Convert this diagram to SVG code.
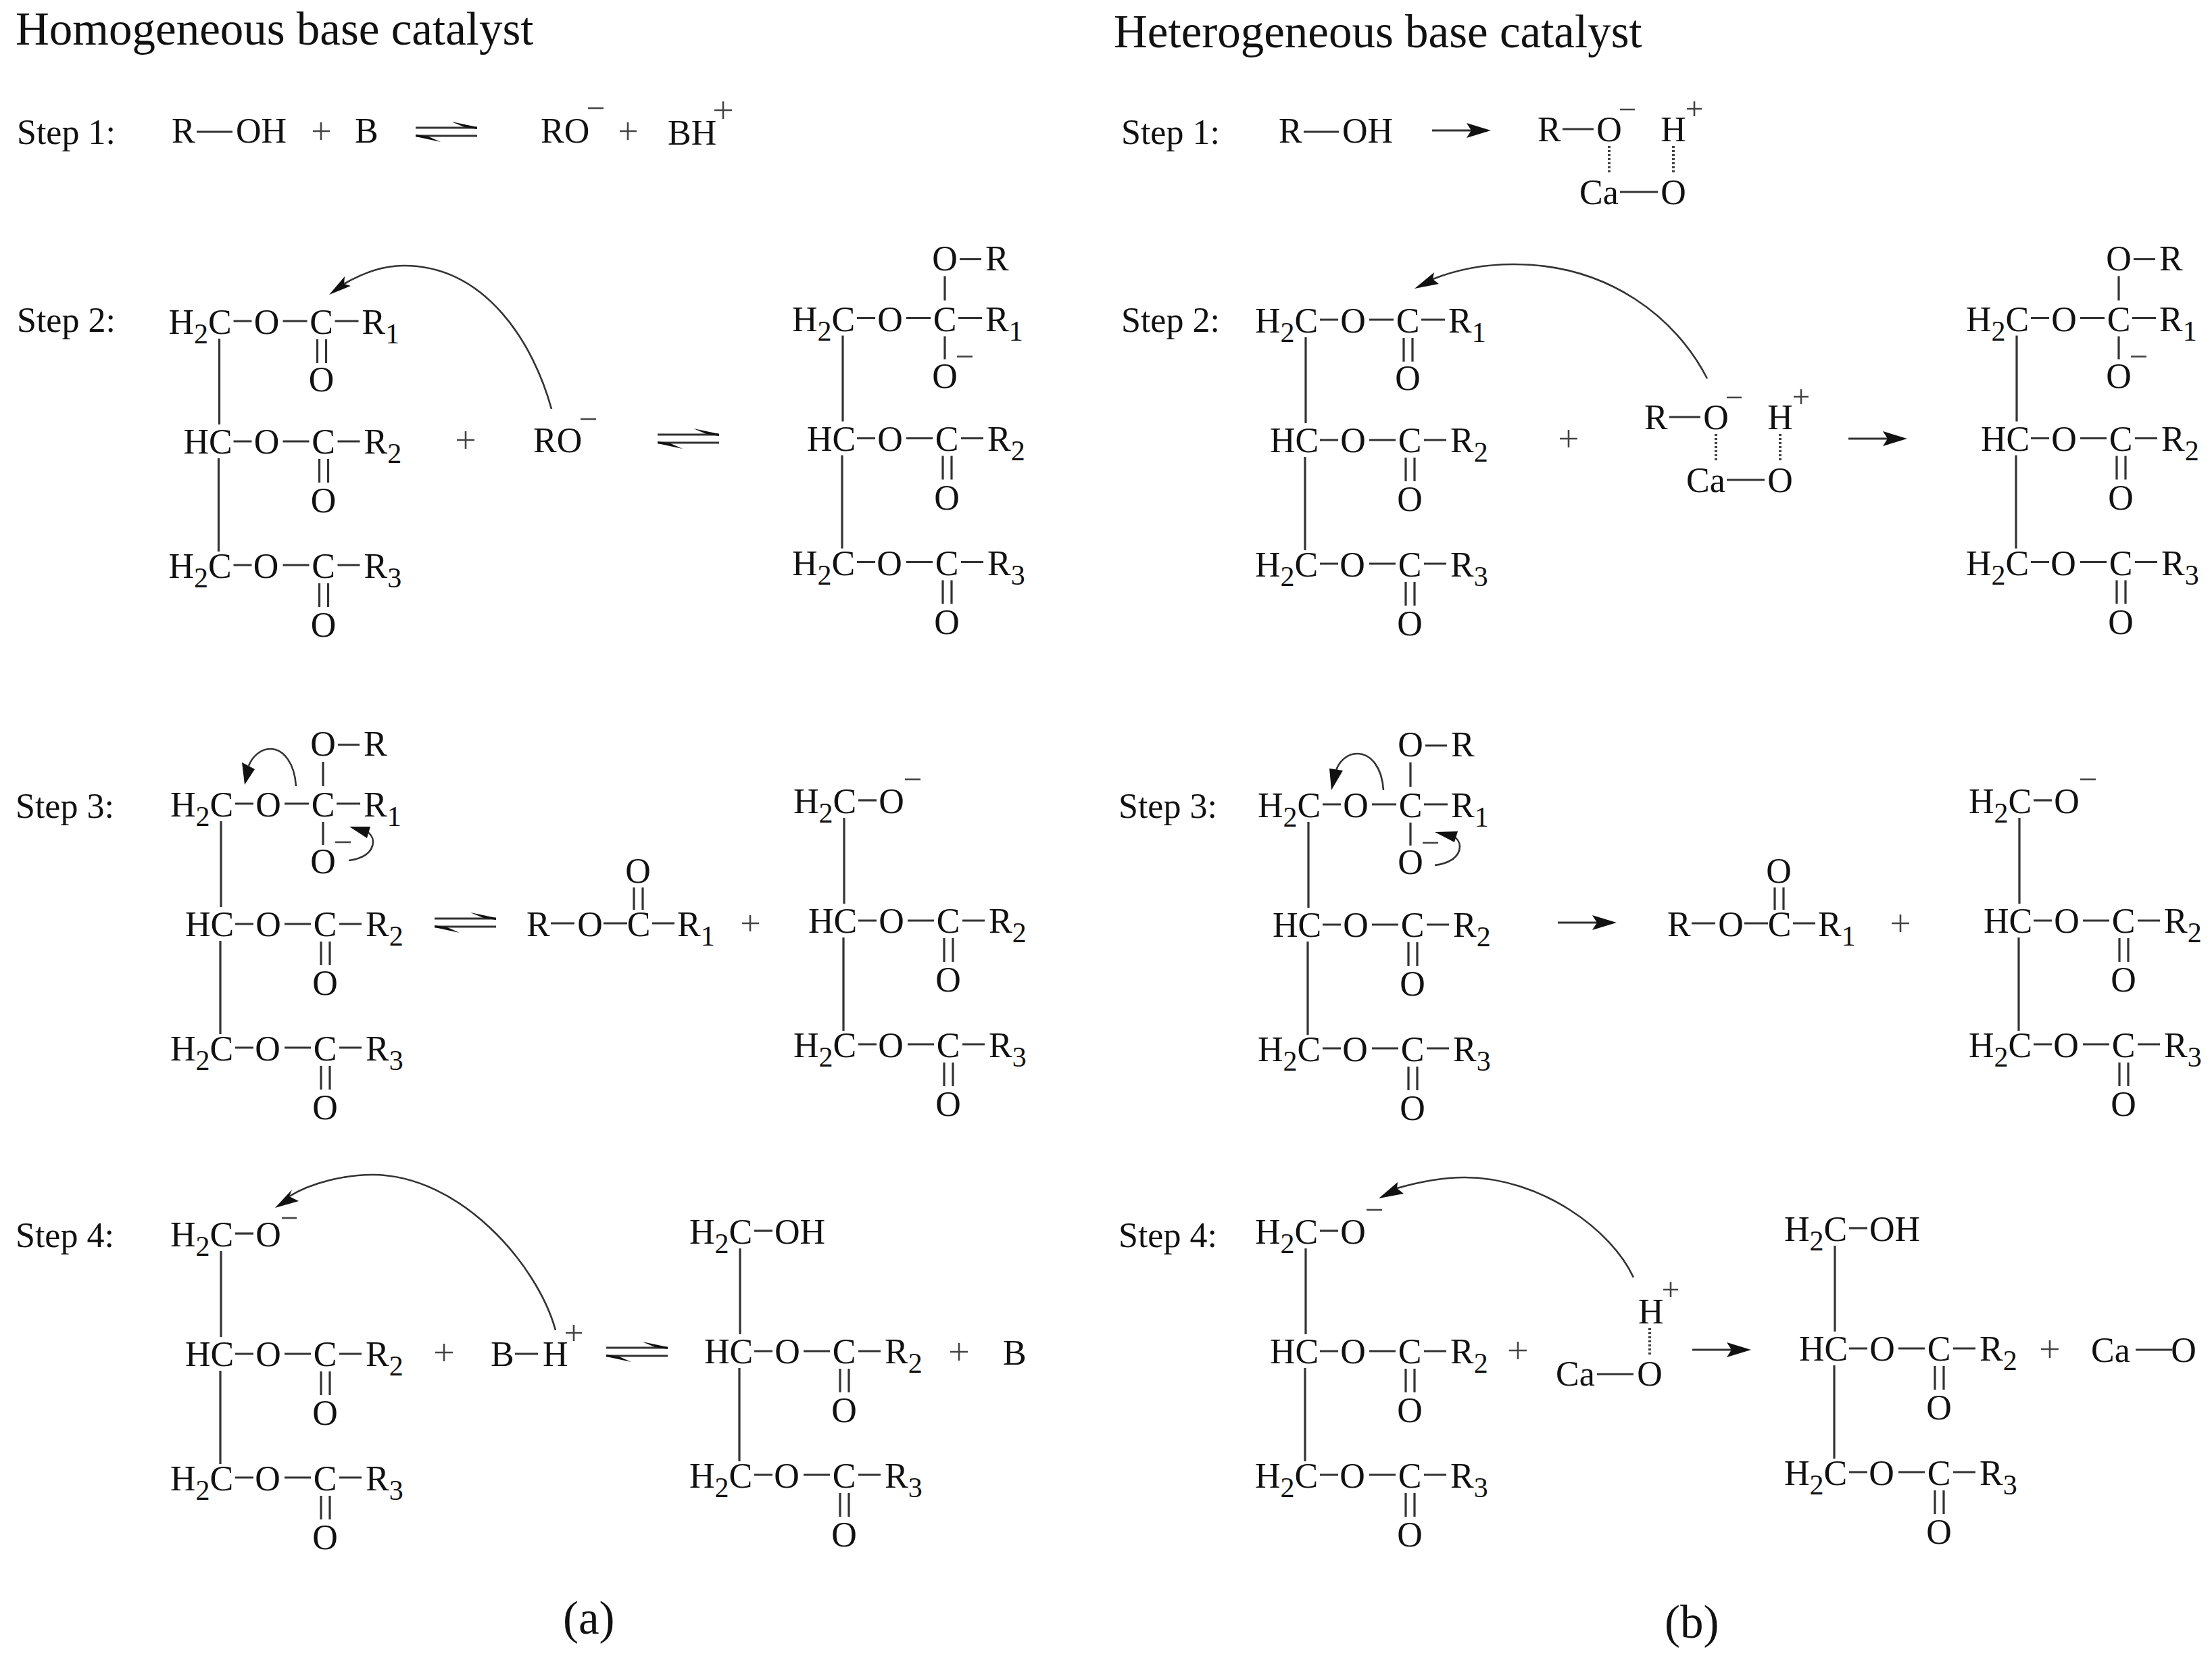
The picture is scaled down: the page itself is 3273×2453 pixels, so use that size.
<svg xmlns="http://www.w3.org/2000/svg" width="3273" height="2453" viewBox="0 0 3273 2453">
<style>
text{font-family:"Liberation Serif","Times New Roman",serif;font-size:52px;fill:#111}
.t{font-size:69px}
.m{text-anchor:middle}
.s{font-size:42px}
.b{stroke:#333;stroke-width:3.2;fill:none}
.p{stroke:#444;stroke-width:2.6;fill:none}
.c{stroke:#333;stroke-width:2.6;fill:none}
.d{stroke:#444;stroke-width:4;stroke-dasharray:3 3;fill:none}
.h{fill:#111;stroke:none}
</style>
<defs>
<g id="tail">
<path class="b" d="M74 7V134M73 184V322M95 159H122M168 159H207M249 159H282M95 342H122M168 342H207M249 342H282M222 185V220M235 185V220M222 369V404M235 369V404"/>
</g>
<g id="eq">
<path class="b" d="M0 -6H91M0 6H91"/>
<path class="h" d="M53 -15L91 -7V-4L72 -7Z"/>
<path class="h" d="M0 4L19 7L37 15L0 7Z"/>
</g>
<g id="arrow">
<path class="b" d="M0 0H60"/>
<path class="h" d="M87 0L51 -11L58 0L51 11Z"/>
</g>
<g id="cat">
<path class="b" d="M2312 191H2358M2397 284H2453"/>
<path class="d" d="M2381 216V257M2476 216V257"/>
<path class="p" d="M2397 162H2419M2496 161H2518M2507 150V172"/>
</g>
</defs>

<g id="titles">
<text class="t" x="23" y="66">Homogeneous base catalyst</text>
<text class="t" x="1648" y="70">Heterogeneous base catalyst</text>
<text class="t" x="833" y="2417">(a)</text>
<text class="t" x="2463" y="2423">(b)</text>
</g>
<g id="step-labels">
<text x="25" y="213">Step 1:</text>
<text x="25" y="491">Step 2:</text>
<text x="23" y="1210">Step 3:</text>
<text x="23" y="1845">Step 4:</text>
<text x="1659" y="213">Step 1:</text>
<text x="1659" y="491">Step 2:</text>
<text x="1655" y="1210">Step 3:</text>
<text x="1655" y="1845">Step 4:</text>
</g>

<g id="connectors">
<path class="b" d="M291 195H344"/>
<path class="b" d="M1929 195H1981"/>
<path class="p" d="M463 194H488M475 181V207M870 160H893M1057 163H1083M1070 150V176M917 194H942M929 181V207"/>
<path class="p" d="M859 620H882M676 651H702M689 638V664"/>
<use href="#eq" x="615" y="195"/>
<use href="#eq" x="973" y="649"/>
<use href="#eq" x="643" y="1365"/>
<use href="#eq" x="897" y="2000"/>
<use href="#arrow" x="2119" y="193"/>
<use href="#arrow" x="2735" y="649"/>
<use href="#arrow" x="2305" y="1365"/>
<use href="#arrow" x="2504" y="1997"/>
<path class="c" d="M816 605C790 510 720 393 597 393C565 393 535 405 509 420"/>
<path class="h" d="M487 436L510 409L509 420L519 423Z"/>
<path class="c" d="M822 1968C795 1870 680 1738 551 1738C510 1738 460 1750 428 1770"/>
<path class="h" d="M407 1787L432 1760L428 1770L442 1777Z"/>
<path class="c" d="M2526 560C2480 470 2380 391 2240 391C2200 391 2160 397 2120 413"/>
<path class="h" d="M2093 427L2122 403L2120 413L2129 420Z"/>
<path class="c" d="M2417 1890C2385 1820 2280 1742 2167 1742C2130 1742 2095 1750 2067 1758"/>
<path class="h" d="M2040 1773L2068 1749L2067 1758L2077 1766Z"/>
<path class="c" d="M438 1163C436 1130 420 1108 400 1108C385 1108 373 1120 368 1133"/>
<path class="h" d="M362 1161L358 1128L377 1138Z"/>
<path class="c" d="M516 1273C535 1271 552 1262 552 1245C552 1238 548 1233 540 1228"/>
<path class="h" d="M517 1223L548 1223L543 1240Z"/>
<path class="c" d="M2047 1169C2045 1136 2029 1115 2008 1115C1993 1115 1981 1127 1977 1140"/>
<path class="h" d="M1970 1169L1967 1137L1987 1140Z"/>
<path class="c" d="M2123 1280C2142 1278 2160 1269 2160 1252C2160 1245 2156 1240 2148 1235"/>
<path class="h" d="M2123 1231L2157 1230L2152 1246Z"/>
<path class="b" d="M815 1366H850M893 1366H928M965 1366H998M938 1313V1346M951 1313V1346"/>
<path class="b" d="M2503 1366H2538M2581 1366H2616M2653 1366H2686M2626 1313V1346M2639 1313V1346"/>
<path class="b" d="M762 2003H796"/>
<path class="p" d="M644 2001H670M657 1988V2014M1098 1366H1123M1110 1354V1378M1406 2000H1432M1419 1987V2013"/>
<path class="p" d="M2308 649H2334M2321 636V662M2799 1366H2825M2812 1353V1379M2233 1998H2259M2246 1985V2011M3020 1996H3046M3033 1983V2009"/>
<path class="b" d="M3160 1997H3214"/>
<path class="p" d="M837 1972H861M849 1960V1984"/>
</g>

<g id="s1-left">
<text x="254" y="211">R</text><text x="349" y="211">OH</text><text x="525" y="211">B</text>
<text x="800" y="211">RO</text><text x="988" y="214">BH</text>
</g>
<g id="s1-right">
<text x="1892" y="211">R</text><text x="1986" y="211">OH</text>
</g>
<g id="cat1">
<use href="#cat"/>
<text x="2275" y="209">R</text><text class="m" x="2381" y="209">O</text><text class="m" x="2476" y="209">H</text>
<text x="2337" y="302">Ca</text><text class="m" x="2476" y="302">O</text>
</g>
<g id="cat2" transform="translate(158 426)">
<use href="#cat"/>
<text x="2275" y="209">R</text><text class="m" x="2381" y="209">O</text><text class="m" x="2476" y="209">H</text>
<text x="2337" y="302">Ca</text><text class="m" x="2476" y="302">O</text>
</g>
<g id="ro-step2"><text x="789" y="669">RO</text></g>

<g id="ester-left"><text x="779" y="1385">R</text><text class="m" x="873" y="1385">O</text><text class="m" x="945" y="1385">C</text><text x="1002" y="1385">R<tspan class="s" dy="14">1</tspan></text><text class="m" x="944" y="1306">O</text></g>
<g id="ester-right"><text x="2467" y="1385">R</text><text class="m" x="2561" y="1385">O</text><text class="m" x="2633" y="1385">C</text><text x="2690" y="1385">R<tspan class="s" dy="14">1</tspan></text><text class="m" x="2632" y="1306">O</text></g>
<g id="bh-left"><text x="726" y="2021">B</text><text x="803" y="2021">H</text><text x="1484" y="2019">B</text></g>
<g id="cat-step4">
<path class="b" d="M2363 2033H2417"/>
<path class="p" d="M2461 1908H2483M2472 1897V1919"/>
<path class="d" d="M2441 1965V2005"/>
<text x="2424" y="1958">H</text><text x="2302" y="2050">Ca</text><text class="m" x="2441" y="2050">O</text>
</g>
<g id="cao-right"><text x="3094" y="2015">Ca</text><text class="m" x="3231" y="2015">O</text></g>

<g id="tg-a" transform="translate(250.5 494)">
<use href="#tail"/>
<path class="b" d="M95 -19H122M168 -19H204M245 -19H280M219 8V43M232 8V43"/>
<text x="-1" y="0">H<tspan class="s" dy="14">2</tspan><tspan dy="-14">C</tspan></text><text class="m" x="144" y="0">O</text><text class="m" x="225" y="0">C</text><text x="285" y="0">R<tspan class="s" dy="14">1</tspan></text><text class="m" x="225" y="85">O</text>
<text x="21" y="177">HC</text><text class="m" x="144" y="177">O</text><text class="m" x="228" y="177">C</text><text x="288" y="177">R<tspan class="s" dy="14">2</tspan></text><text class="m" x="228" y="264">O</text>
<text x="-1" y="361">H<tspan class="s" dy="14">2</tspan><tspan dy="-14">C</tspan></text><text class="m" x="143" y="361">O</text><text class="m" x="228" y="361">C</text><text x="288" y="361">R<tspan class="s" dy="14">3</tspan></text><text class="m" x="228" y="448">O</text>
</g>
<g id="tg-b" transform="translate(1173 489.5)">
<use href="#tail"/>
<path class="b" d="M95 -19H122M168 -19H204M245 -19H280M247 -106H279M225 -81V-45M225 8V42"/><path class="p" d="M243 38H266"/>
<text class="m" x="225" y="-90">O</text><text x="285" y="-90">R</text>
<text x="-1" y="0">H<tspan class="s" dy="14">2</tspan><tspan dy="-14">C</tspan></text><text class="m" x="144" y="0">O</text><text class="m" x="225" y="0">C</text><text x="285" y="0">R<tspan class="s" dy="14">1</tspan></text><text class="m" x="225" y="84">O</text>
<text x="21" y="177">HC</text><text class="m" x="144" y="177">O</text><text class="m" x="228" y="177">C</text><text x="288" y="177">R<tspan class="s" dy="14">2</tspan></text><text class="m" x="228" y="264">O</text>
<text x="-1" y="361">H<tspan class="s" dy="14">2</tspan><tspan dy="-14">C</tspan></text><text class="m" x="143" y="361">O</text><text class="m" x="228" y="361">C</text><text x="288" y="361">R<tspan class="s" dy="14">3</tspan></text><text class="m" x="228" y="448">O</text>
</g>
<g id="tg-c" transform="translate(253 1208)">
<use href="#tail"/>
<path class="b" d="M95 -19H122M168 -19H204M245 -19H280M247 -106H279M225 -81V-45M225 8V42"/><path class="p" d="M243 38H266"/>
<text class="m" x="225" y="-90">O</text><text x="285" y="-90">R</text>
<text x="-1" y="0">H<tspan class="s" dy="14">2</tspan><tspan dy="-14">C</tspan></text><text class="m" x="144" y="0">O</text><text class="m" x="225" y="0">C</text><text x="285" y="0">R<tspan class="s" dy="14">1</tspan></text><text class="m" x="225" y="84">O</text>
<text x="21" y="177">HC</text><text class="m" x="144" y="177">O</text><text class="m" x="228" y="177">C</text><text x="288" y="177">R<tspan class="s" dy="14">2</tspan></text><text class="m" x="228" y="264">O</text>
<text x="-1" y="361">H<tspan class="s" dy="14">2</tspan><tspan dy="-14">C</tspan></text><text class="m" x="143" y="361">O</text><text class="m" x="228" y="361">C</text><text x="288" y="361">R<tspan class="s" dy="14">3</tspan></text><text class="m" x="228" y="448">O</text>
</g>
<g id="tg-d" transform="translate(1175 1203)">
<use href="#tail"/>
<path class="b" d="M95 -19H122"/><path class="p" d="M164 -50H187"/>
<text x="-1" y="0">H<tspan class="s" dy="14">2</tspan><tspan dy="-14">C</tspan></text><text class="m" x="144" y="0">O</text>
<text x="21" y="177">HC</text><text class="m" x="144" y="177">O</text><text class="m" x="228" y="177">C</text><text x="288" y="177">R<tspan class="s" dy="14">2</tspan></text><text class="m" x="228" y="264">O</text>
<text x="-1" y="361">H<tspan class="s" dy="14">2</tspan><tspan dy="-14">C</tspan></text><text class="m" x="143" y="361">O</text><text class="m" x="228" y="361">C</text><text x="288" y="361">R<tspan class="s" dy="14">3</tspan></text><text class="m" x="228" y="448">O</text>
</g>
<g id="tg-e" transform="translate(253 1844)">
<use href="#tail"/>
<path class="b" d="M95 -19H122"/><path class="p" d="M164 -42H186"/>
<text x="-1" y="0">H<tspan class="s" dy="14">2</tspan><tspan dy="-14">C</tspan></text><text class="m" x="144" y="0">O</text>
<text x="21" y="177">HC</text><text class="m" x="144" y="177">O</text><text class="m" x="228" y="177">C</text><text x="288" y="177">R<tspan class="s" dy="14">2</tspan></text><text class="m" x="228" y="264">O</text>
<text x="-1" y="361">H<tspan class="s" dy="14">2</tspan><tspan dy="-14">C</tspan></text><text class="m" x="143" y="361">O</text><text class="m" x="228" y="361">C</text><text x="288" y="361">R<tspan class="s" dy="14">3</tspan></text><text class="m" x="228" y="448">O</text>
</g>
<g id="tg-f" transform="translate(1021 1840)">
<use href="#tail"/>
<path class="b" d="M95 -19H122"/>
<text x="-1" y="0">H<tspan class="s" dy="14">2</tspan><tspan dy="-14">C</tspan></text><text x="125" y="0">OH</text>
<text x="21" y="177">HC</text><text class="m" x="144" y="177">O</text><text class="m" x="228" y="177">C</text><text x="288" y="177">R<tspan class="s" dy="14">2</tspan></text><text class="m" x="228" y="264">O</text>
<text x="-1" y="361">H<tspan class="s" dy="14">2</tspan><tspan dy="-14">C</tspan></text><text class="m" x="143" y="361">O</text><text class="m" x="228" y="361">C</text><text x="288" y="361">R<tspan class="s" dy="14">3</tspan></text><text class="m" x="228" y="448">O</text>
</g>
<g id="tg-g" transform="translate(1858 492)">
<use href="#tail"/>
<path class="b" d="M95 -19H122M168 -19H204M245 -19H280M219 8V43M232 8V43"/>
<text x="-1" y="0">H<tspan class="s" dy="14">2</tspan><tspan dy="-14">C</tspan></text><text class="m" x="144" y="0">O</text><text class="m" x="225" y="0">C</text><text x="285" y="0">R<tspan class="s" dy="14">1</tspan></text><text class="m" x="225" y="85">O</text>
<text x="21" y="177">HC</text><text class="m" x="144" y="177">O</text><text class="m" x="228" y="177">C</text><text x="288" y="177">R<tspan class="s" dy="14">2</tspan></text><text class="m" x="228" y="264">O</text>
<text x="-1" y="361">H<tspan class="s" dy="14">2</tspan><tspan dy="-14">C</tspan></text><text class="m" x="143" y="361">O</text><text class="m" x="228" y="361">C</text><text x="288" y="361">R<tspan class="s" dy="14">3</tspan></text><text class="m" x="228" y="448">O</text>
</g>
<g id="tg-h" transform="translate(2910 489.5)">
<use href="#tail"/>
<path class="b" d="M95 -19H122M168 -19H204M245 -19H280M247 -106H279M225 -81V-45M225 8V42"/><path class="p" d="M243 38H266"/>
<text class="m" x="225" y="-90">O</text><text x="285" y="-90">R</text>
<text x="-1" y="0">H<tspan class="s" dy="14">2</tspan><tspan dy="-14">C</tspan></text><text class="m" x="144" y="0">O</text><text class="m" x="225" y="0">C</text><text x="285" y="0">R<tspan class="s" dy="14">1</tspan></text><text class="m" x="225" y="84">O</text>
<text x="21" y="177">HC</text><text class="m" x="144" y="177">O</text><text class="m" x="228" y="177">C</text><text x="288" y="177">R<tspan class="s" dy="14">2</tspan></text><text class="m" x="228" y="264">O</text>
<text x="-1" y="361">H<tspan class="s" dy="14">2</tspan><tspan dy="-14">C</tspan></text><text class="m" x="143" y="361">O</text><text class="m" x="228" y="361">C</text><text x="288" y="361">R<tspan class="s" dy="14">3</tspan></text><text class="m" x="228" y="448">O</text>
</g>
<g id="tg-i" transform="translate(1862 1209)">
<use href="#tail"/>
<path class="b" d="M95 -19H122M168 -19H204M245 -19H280M247 -106H279M225 -81V-45M225 8V42"/><path class="p" d="M243 38H266"/>
<text class="m" x="225" y="-90">O</text><text x="285" y="-90">R</text>
<text x="-1" y="0">H<tspan class="s" dy="14">2</tspan><tspan dy="-14">C</tspan></text><text class="m" x="144" y="0">O</text><text class="m" x="225" y="0">C</text><text x="285" y="0">R<tspan class="s" dy="14">1</tspan></text><text class="m" x="225" y="84">O</text>
<text x="21" y="177">HC</text><text class="m" x="144" y="177">O</text><text class="m" x="228" y="177">C</text><text x="288" y="177">R<tspan class="s" dy="14">2</tspan></text><text class="m" x="228" y="264">O</text>
<text x="-1" y="361">H<tspan class="s" dy="14">2</tspan><tspan dy="-14">C</tspan></text><text class="m" x="143" y="361">O</text><text class="m" x="228" y="361">C</text><text x="288" y="361">R<tspan class="s" dy="14">3</tspan></text><text class="m" x="228" y="448">O</text>
</g>
<g id="tg-j" transform="translate(2914 1203)">
<use href="#tail"/>
<path class="b" d="M95 -19H122"/><path class="p" d="M164 -50H187"/>
<text x="-1" y="0">H<tspan class="s" dy="14">2</tspan><tspan dy="-14">C</tspan></text><text class="m" x="144" y="0">O</text>
<text x="21" y="177">HC</text><text class="m" x="144" y="177">O</text><text class="m" x="228" y="177">C</text><text x="288" y="177">R<tspan class="s" dy="14">2</tspan></text><text class="m" x="228" y="264">O</text>
<text x="-1" y="361">H<tspan class="s" dy="14">2</tspan><tspan dy="-14">C</tspan></text><text class="m" x="143" y="361">O</text><text class="m" x="228" y="361">C</text><text x="288" y="361">R<tspan class="s" dy="14">3</tspan></text><text class="m" x="228" y="448">O</text>
</g>
<g id="tg-k" transform="translate(1858 1840)">
<use href="#tail"/>
<path class="b" d="M95 -19H122"/><path class="p" d="M164 -50H187"/>
<text x="-1" y="0">H<tspan class="s" dy="14">2</tspan><tspan dy="-14">C</tspan></text><text class="m" x="144" y="0">O</text>
<text x="21" y="177">HC</text><text class="m" x="144" y="177">O</text><text class="m" x="228" y="177">C</text><text x="288" y="177">R<tspan class="s" dy="14">2</tspan></text><text class="m" x="228" y="264">O</text>
<text x="-1" y="361">H<tspan class="s" dy="14">2</tspan><tspan dy="-14">C</tspan></text><text class="m" x="143" y="361">O</text><text class="m" x="228" y="361">C</text><text x="288" y="361">R<tspan class="s" dy="14">3</tspan></text><text class="m" x="228" y="448">O</text>
</g>
<g id="tg-l" transform="translate(2641 1836)">
<use href="#tail"/>
<path class="b" d="M95 -19H122"/>
<text x="-1" y="0">H<tspan class="s" dy="14">2</tspan><tspan dy="-14">C</tspan></text><text x="125" y="0">OH</text>
<text x="21" y="177">HC</text><text class="m" x="144" y="177">O</text><text class="m" x="228" y="177">C</text><text x="288" y="177">R<tspan class="s" dy="14">2</tspan></text><text class="m" x="228" y="264">O</text>
<text x="-1" y="361">H<tspan class="s" dy="14">2</tspan><tspan dy="-14">C</tspan></text><text class="m" x="143" y="361">O</text><text class="m" x="228" y="361">C</text><text x="288" y="361">R<tspan class="s" dy="14">3</tspan></text><text class="m" x="228" y="448">O</text>
</g>
</svg>
